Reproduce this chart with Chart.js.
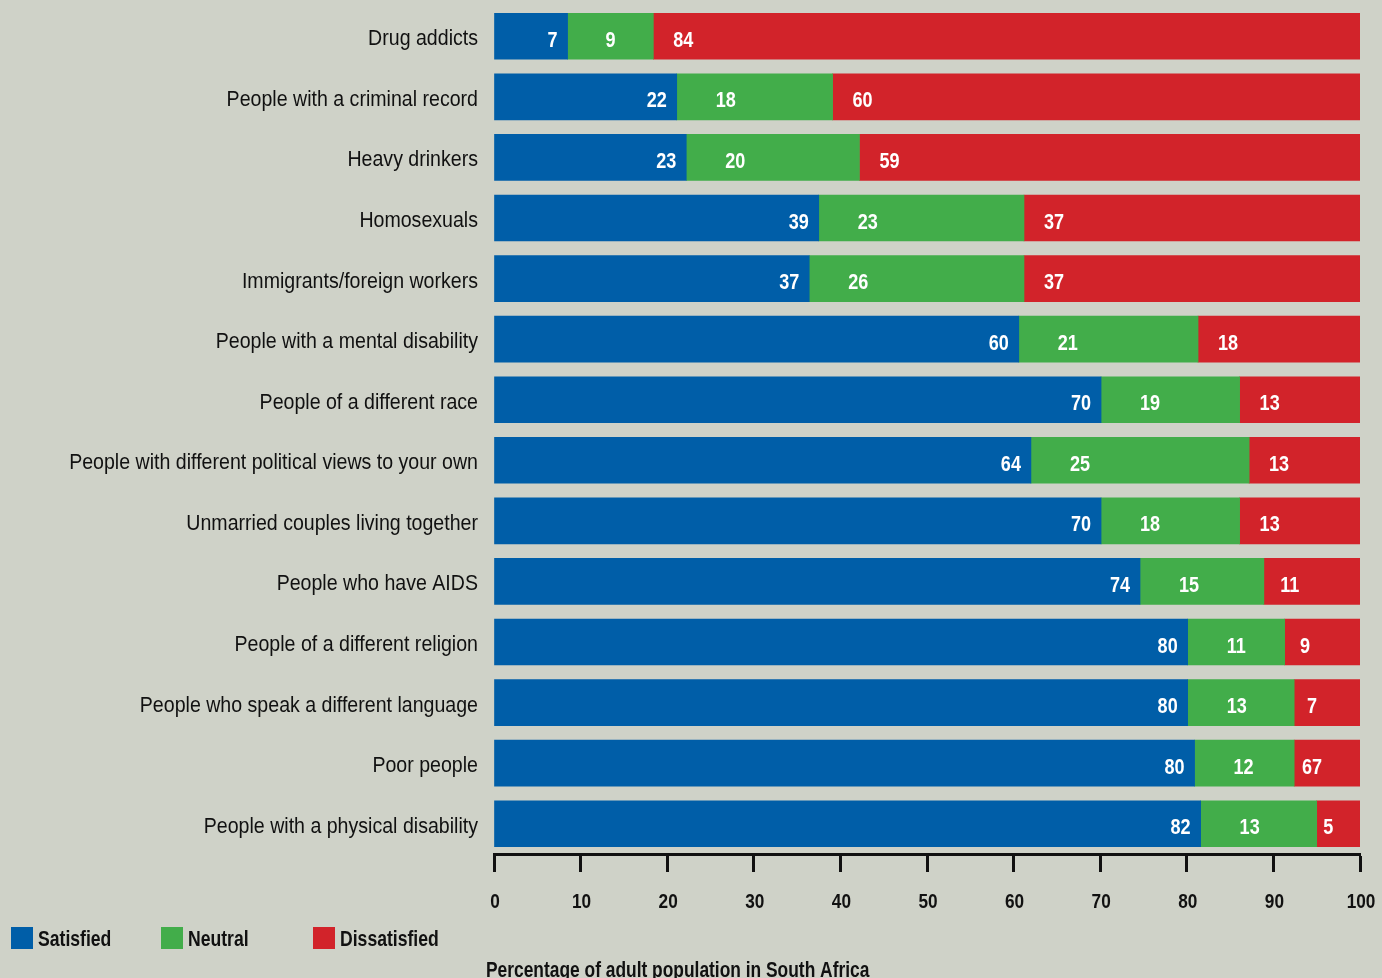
<!DOCTYPE html>
<html>
<head>
<meta charset="utf-8">
<script src="https://cdn.jsdelivr.net/npm/chart.js@4.4.1/dist/chart.umd.min.js"></script>
<style>
  body { margin: 0; background: #cfd2c8; }
  #wrap { width: 1382px; height: 978px; position: relative; }
</style>
</head>
<body>
<div id="wrap"><canvas id="tolerance_chart"></canvas></div>
<script>
// categories, top to bottom
const categories = [
  "Drug addicts",
  "People with a criminal record",
  "Heavy drinkers",
  "Homosexuals",
  "Immigrants/foreign workers",
  "People with a mental disability",
  "People of a different race",
  "People with different political views to your own",
  "Unmarried couples living together",
  "People who have AIDS",
  "People of a different religion",
  "People who speak a different language",
  "Poor people",
  "People with a physical disability"
];

// bar lengths as drawn in the picture (percent of axis)
const satisfied    = [8.5, 21.1, 22.2, 37.5, 36.4, 60.6, 70.1, 62.0, 70.1, 74.6, 80.1, 80.1, 80.9, 81.6];
const neutral      = [9.9, 18.0, 20.0, 23.7, 24.8, 20.7, 16.0, 25.2, 16.0, 14.3, 11.2, 12.3, 11.5, 13.4];
const dissatisfied = [81.6, 60.9, 57.8, 38.8, 38.8, 18.7, 13.9, 12.8, 13.9, 11.1, 8.7, 7.6, 7.6, 5.0];

// numbers printed on the bars (as in the original, typos included)
const satisfiedText    = [7, 22, 23, 39, 37, 60, 70, 64, 70, 74, 80, 80, 80, 82];
const neutralText      = [9, 18, 20, 23, 26, 21, 19, 25, 18, 15, 11, 13, 12, 13];
const dissatisfiedText = [84, 60, 59, 37, 37, 18, 13, 13, 13, 11, 9, 7, 67, 5];

const axisTitle = "Percentage of adult population in South Africa";

const FONT = "'Liberation Sans', Arial, sans-serif";
Chart.defaults.font.family = FONT;
Chart.defaults.color = "#111";

//no narrow font installed, so squeeze Liberation Sans sideways
function narrowText(ctx, text, x, y, align, font, color, squeeze) {
  ctx.save();
  ctx.font = font;
  ctx.fillStyle = color;
  ctx.textAlign = align;
  ctx.textBaseline = "alphabetic";
  ctx.translate(x, y);
  ctx.scale(squeeze || 0.82, 1);
  ctx.fillText(text, 0, 0);
  ctx.restore();
}

//white numbers on each segment
const valueLabels = {
  id: "valueLabels",
  afterDatasetsDraw(chart) {
    const ctx = chart.ctx;
    const font = "bold 22px " + FONT;
    chart.data.datasets.forEach((ds, di) => {
      chart.getDatasetMeta(di).data.forEach((bar, i) => {
        const start = Math.min(bar.x, bar.base);
        const end = Math.max(bar.x, bar.base);
        const w = end - start;
        const txt = String(ds.valueText[i]);
        const y = bar.y + 10.5;
        if (di === 0) {
          narrowText(ctx, txt, end - 10, y, "right", font, "#fff");
        } else if (di === 1) {
          narrowText(ctx, txt, start + Math.min(49, w / 2), y, "center", font, "#fff");
        } else {
          narrowText(ctx, txt, start + Math.min(30, w * 0.27), y, "center", font, "#fff");
        }
      });
    });
  }
};

//category names, x tick numbers, axis title and the legend
const axisText = {
  id: "axisText",
  afterDraw(chart) {
    const ctx = chart.ctx;
    const xs = chart.scales.x, ys = chart.scales.y;
    chart.data.labels.forEach((lab, i) => {
      narrowText(ctx, lab, ys.right - 16, ys.getPixelForTick(i) + 9, "right", "22px " + FONT, "#111", 0.89);
    });
    xs.ticks.forEach((t) => {
      narrowText(ctx, String(t.value), xs.getPixelForValue(t.value) + 1, 907.5, "center", "bold 21px " + FONT, "#111");
    });
    narrowText(ctx, axisTitle, 486, 977, "left", "bold 22px " + FONT, "#111", 0.79);

    const cols = [11, 161, 313];
    chart.data.datasets.forEach((ds, i) => {
      ctx.fillStyle = ds.backgroundColor;
      ctx.fillRect(cols[i], 927, 22, 22);
      narrowText(ctx, ds.label, cols[i] + 27, 946, "left", "bold 22px " + FONT, "#111", 0.8);
    });
  }
};

const ctx = document.getElementById("tolerance_chart").getContext("2d");
new Chart(ctx, {
  type: "bar",
  data: {
    labels: categories,
    datasets: [
      { label: "Satisfied",    data: satisfied,    valueText: satisfiedText,    backgroundColor: "#005ea8" },
      { label: "Neutral",      data: neutral,      valueText: neutralText,      backgroundColor: "#42ad4a" },
      { label: "Dissatisfied", data: dissatisfied, valueText: dissatisfiedText, backgroundColor: "#d2232a" }
    ]
  },
  options: {
    indexAxis: "y",
    responsive: true,
    maintainAspectRatio: false,
    animation: false,
    barThickness: 46,
    layout: { padding: { top: 6, right: 22, left: 0, bottom: 0 } },
    plugins: {
      legend: { display: false },
      tooltip: { enabled: false }
    },
    scales: {
      x: {
        stacked: true,
        min: 0,
        max: 100,
        ticks: { stepSize: 10, padding: 14, font: { size: 21, weight: "bold" }, color: "rgba(0,0,0,0)" },
        grid: { drawOnChartArea: false, tickLength: 18, tickColor: "#111", tickWidth: 3 },
        border: { color: "#111", width: 3 },
        afterFit(scale) {
          scale.height = 124;
          scale.paddingLeft = 0;
          scale.paddingRight = 0;
        }
      },
      y: {
        stacked: true,
        grid: { display: false, drawTicks: false },
        border: { display: false },
        ticks: { display: false, padding: 0 },
        afterFit(scale) {
          scale.width = 494;
          scale.paddingTop = 0;
          scale.paddingBottom = 0;
        }
      }
    }
  },
  plugins: [valueLabels, axisText]
});
</script>
</body>
</html>
